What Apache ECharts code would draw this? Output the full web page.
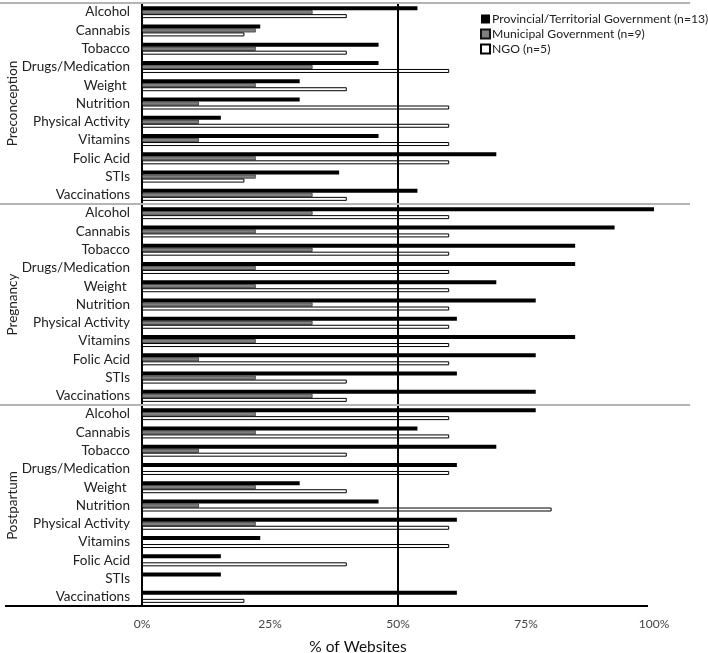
<!DOCTYPE html>
<html>
<head>
<meta charset="utf-8">
<script src="https://cdn.jsdelivr.net/npm/echarts@6/dist/echarts.min.js"></script>
<style>
html,body{margin:0;padding:0;background:#fff;}
#chart{width:708px;height:653px;}
</style>
</head>
<body>
<div id="chart"></div>
<script>
var groups = ['Preconception', 'Pregnancy', 'Postpartum'];
var topics = ['Alcohol', 'Cannabis', 'Tobacco', 'Drugs/Medication', 'Weight ', 'Nutrition',
    'Physical Activity', 'Vitamins', 'Folic Acid', 'STIs', 'Vaccinations'];
var seriesNames = ['Provincial/Territorial Government (n=13)', 'Municipal Government (n=9)', 'NGO (n=5)'];

// % of websites, in the order preconception, pregnancy, postpartum
var provincial = [
    53.8, 23.1, 46.2, 46.2, 30.8, 30.8, 15.4, 46.2, 69.2, 38.5, 53.8,
    100, 92.3, 84.6, 84.6, 69.2, 76.9, 61.5, 84.6, 76.9, 61.5, 76.9,
    76.9, 53.8, 69.2, 61.5, 30.8, 46.2, 61.5, 23.1, 15.4, 15.4, 61.5
];
var municipal = [
    33.3, 22.2, 22.2, 33.3, 22.2, 11.1, 11.1, 11.1, 22.2, 22.2, 33.3,
    33.3, 22.2, 33.3, 22.2, 22.2, 33.3, 33.3, 22.2, 11.1, 22.2, 33.3,
    22.2, 22.2, 11.1, 0, 22.2, 11.1, 22.2, 0, 0, 0, 0
];
var ngo = [
    40, 20, 40, 60, 40, 60, 60, 60, 60, 20, 40,
    60, 60, 60, 60, 60, 60, 60, 60, 60, 40, 40,
    60, 60, 40, 60, 40, 80, 60, 60, 40, 0, 20
];
var xTicks = [0, 25, 50, 75, 100];

var categories = [];
for (var g = 0; g < groups.length; g++) {
    for (var t = 0; t < topics.length; t++) {
        categories.push(groups[g] + '|' + topics[t]);
    }
}

var font = 'Lato';
var chart = echarts.init(document.getElementById('chart'));

var option = {
    animation: false,
    textStyle: { fontFamily: font },
    grid: { left: 142, right: 54, top: 3, bottom: 47, outerBoundsMode: 'none', containLabel: false },
    legend: {
        orient: 'vertical',
        left: 475,
        top: 8,
        itemWidth: 9,
        itemHeight: 9,
        itemGap: 3,
        icon: 'rect',
        textStyle: { fontFamily: font, fontSize: 12.2, color: '#222', padding: [0, 0, 0, -3] },
        data: seriesNames
    },
    xAxis: {
        type: 'value',
        min: 0,
        max: 100,
        interval: 25,
        splitLine: { show: false },
        axisLine: { show: false },
        axisTick: { show: false },
        axisLabel: {
            fontSize: 12,
            color: '#444',
            margin: 12,
            formatter: function (v) { return xTicks.indexOf(v) >= 0 ? v + '%' : ''; }
        },
        name: '% of Websites',
        nameLocation: 'middle',
        nameGap: 33,
        nameTextStyle: { fontSize: 15.5, color: '#111', padding: [0, 80, 0, 0] }
    },
    yAxis: [{
        type: 'category',
        inverse: true,
        data: categories,
        axisLine: { show: true, lineStyle: { color: '#000', width: 2 } },
        axisTick: { show: false },
        axisLabel: {
            fontSize: 13.5,
            color: '#222',
            margin: 12,
            interval: 0,
            formatter: function (v) { return v.split('|')[1]; }
        }
    }, {
        type: 'category',
        inverse: true,
        position: 'left',
        data: groups,
        axisLine: { show: false },
        axisTick: { show: false },
        axisLabel: { fontSize: 13.5, color: '#222', rotate: 90, margin: 122 }
    }],
    series: [{
        name: seriesNames[0],
        type: 'bar',
        data: provincial,
        barWidth: 4,
        barGap: '0%',
        itemStyle: { color: '#000' },
        markLine: {
            silent: true,
            symbol: 'none',
            label: { show: false },
            lineStyle: { color: '#000', width: 2, type: 'solid' },
            data: [{ xAxis: 50 }]
        }
    }, {
        name: seriesNames[1],
        type: 'bar',
        data: municipal,
        barWidth: 4,
        barGap: '0%',
        itemStyle: { color: '#7f7f7f', borderColor: '#111', borderWidth: 0.6 }
    }, {
        name: seriesNames[2],
        type: 'bar',
        data: ngo,
        barWidth: 4,
        barGap: '0%',
        itemStyle: { color: '#fff', borderColor: '#000', borderWidth: 1 }
    }]
};
chart.setOption(option);

// group separator lines, placed from the category axis
var yA = chart.convertToPixel({ yAxisIndex: 0 }, categories[0]);
var yB = chart.convertToPixel({ yAxisIndex: 0 }, categories[1]);
var band = yB - yA;
var lines = [];
for (var k = 0; k <= groups.length; k++) {
    var y = yA - band / 2 + k * topics.length * band;
    var last = k === groups.length;
    lines.push({
        type: 'line',
        z: 10,
        shape: { x1: last ? 5 : 0, y1: y, x2: last ? 648 : 690, y2: y },
        style: { stroke: last ? '#000' : '#b4b4b4', lineWidth: 2 }
    });
}
chart.setOption({ graphic: lines });
</script>
</body>
</html>
